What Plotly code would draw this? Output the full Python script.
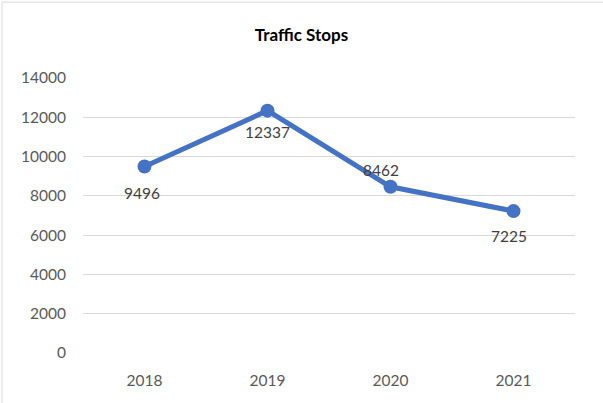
import plotly.graph_objects as go

years = ["2018", "2019", "2020", "2021"]
stops = [9496, 12337, 8462, 7225]
# vertical offset (px) of each value label relative to its point
label_shift = [-27, -21, 17, -25]
label_xshift = [-3, 0, -10, -5]

fig = go.Figure()
fig.add_trace(go.Scatter(
    x=years, y=stops, mode="lines+markers",
    line=dict(color="#4472C4", width=5),
    marker=dict(color="#4472C4", size=14),
    hoverinfo="skip", showlegend=False,
))

for i, (v, dy, dx) in enumerate(zip(stops, label_shift, label_xshift)):
    fig.add_annotation(x=i, y=v, xref="x", yref="y", text=str(v), showarrow=False,
                       yshift=dy, xshift=dx,
                       font=dict(family="Lato, Carlito, sans-serif", size=15.5, color="#404040"))

# chart-area border
fig.add_shape(type="rect", xref="paper", yref="paper",
              x0=-0.1646, x1=1.1, y0=-0.3, y1=1.276,
              line=dict(color="#D9D9D9", width=1), fillcolor="rgba(0,0,0,0)", layer="below")

fig.update_layout(
    width=603, height=403,
    margin=dict(l=83, r=28, t=78, b=50),
    paper_bgcolor="white", plot_bgcolor="white",
    font=dict(family="Lato, Carlito, sans-serif", color="#595959", size=15.5),
    title=dict(text="<b>Traffic Stops</b>", xref="container", x=0.5, xanchor="center",
               y=0.913, yanchor="middle", font=dict(size=17, color="#000000")),
    xaxis=dict(type="category", range=[-0.5, 3.5], showgrid=False, showline=False,
               zeroline=False, ticks="", tickfont=dict(size=15.5, color="#595959"),
               ticklabelstandoff=16),
    yaxis=dict(range=[0, 14000], dtick=2000, showgrid=True, gridcolor="#D9D9D9", gridwidth=1.3,
               zeroline=False, showline=False, ticks="", tickformat="d",
               tickfont=dict(size=15.5, color="#595959"), ticklabelstandoff=16),
)

fig.write_html("out.html")
